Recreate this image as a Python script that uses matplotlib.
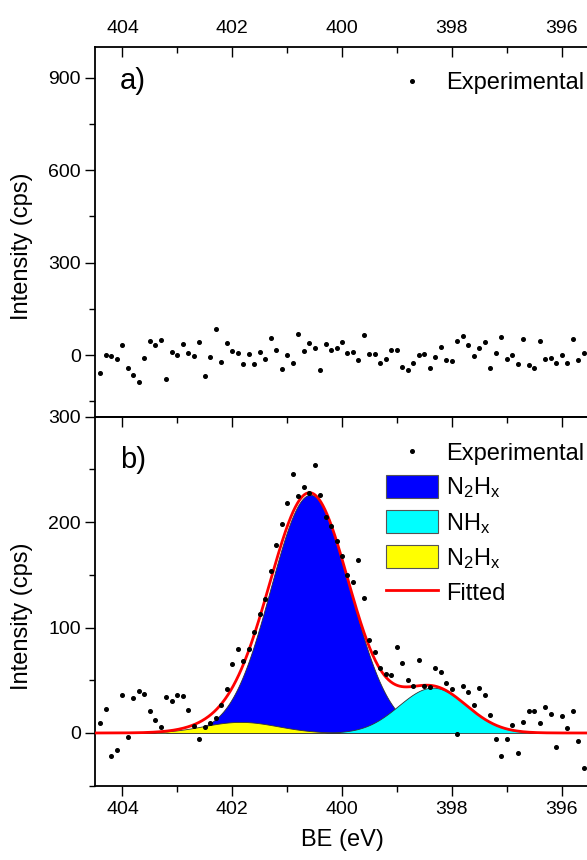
import numpy as np
import matplotlib
matplotlib.use("Agg")
import matplotlib.pyplot as plt
from matplotlib.ticker import MultipleLocator, NullFormatter
from matplotlib.patches import Patch
from matplotlib.lines import Line2D

plt.rcParams['font.family'] = ['Liberation Sans', 'DejaVu Sans']
plt.rcParams['mathtext.fontset'] = 'custom'
plt.rcParams['mathtext.rm'] = 'Liberation Sans'
plt.rcParams['mathtext.it'] = 'Liberation Sans'

# ---------------- data ----------------
be = np.round(np.arange(404.4, 395.45, -0.1), 1)  # binding energies (eV), 0.1 eV step

intensity_a = [
    -57, -1, -4, -13, 32, -42, -64, -87, -11, 44,
    32, 50, -77, 10, 0, 37, 8, -3, 43, -67,
    -8, 86, -24, 40, 13, 6, -30, 3, -30, 10,
    -13, 55, 17, -45, 1, -27, 68, 13, 38, 22,
    -48, 37, 17, 22, 43, 6, 11, -16, 64, 4,
    4, -27, -13, 17, 15, -40, -48, -25, 0, 3,
    -41, -6, 25, -15, -19, 44, 62, 32, -4, 22,
    43, -41, 6, 57, -13, 1, -30, 51, -33, -43,
    46, -13, -9, -27, 1, -27, 51, -16, 6, 83,
]

intensity_b = [
    9, 23, -22, -16, 36, -4, 33, 40, 37, 21,
    12, 6, 34, 30, 36, 35, 22, 7, -6, 6,
    9, 14, 27, 42, 65, 80, 68, 80, 96, 113,
    127, 154, 178, 198, 218, 246, 225, 233, 228, 254,
    226, 205, 196, 182, 168, 150, 143, 164, 128, 88,
    77, 62, 56, 55, 82, 66, 50, 45, 69, 45,
    44, 62, 58, 47, 42, -1, 45, 39, 27, 43,
    36, 17, -6, -22, -6, 8, -19, 10, 21, 21,
    9, 25, 18, -13, 16, 5, 21, -8, -33, 18,
]

# fitted peak components: centre (eV), height (cps), FWHM (eV)
peak_names = ['N$_2$H$_x$', 'NH$_x$', 'N$_2$H$_x$']
peak_centres = [400.58, 398.35, 401.85]
peak_heights = [226, 43, 10.5]
peak_fwhm = [1.70, 1.45, 1.60]
peak_colors = ['#0000FF', '#00FFFF', '#FFFF00']

# --------------- figure ---------------
W, H = 587, 860
fig = plt.figure(figsize=(W / 100, H / 100), dpi=100)

left = 95 / W
width = (589 - 95) / W
axA = fig.add_axes([left, 1 - 416.7 / H, width, (416.7 - 46.7) / H])
axB = fig.add_axes([left, 1 - 785.7 / H, width, (785.7 - 416.7) / H])

FS_TICK = 14
FS_LAB = 17

for ax in (axA, axB):
    ax.set_xlim(404.5, 395.5)
    ax.xaxis.set_major_locator(MultipleLocator(2))
    ax.xaxis.set_minor_locator(MultipleLocator(1))
    for s in ax.spines.values():
        s.set_linewidth(1.3)
    ax.tick_params(which='both', width=1.0, labelsize=FS_TICK)
    ax.tick_params(which='major', length=7)
    ax.tick_params(which='minor', length=4)
    ax.tick_params(axis='y', which='both', direction='out', pad=3)

# panel a
axA.plot(be, intensity_a, 'o', color='black', markersize=2.6, label='Experimental')
axA.set_ylim(-200, 1000)
axA.yaxis.set_major_locator(MultipleLocator(300))
axA.yaxis.set_minor_locator(MultipleLocator(150))
axA.tick_params(axis='x', which='both', top=True, bottom=False, labeltop=True,
                labelbottom=False, direction='in')
axA.tick_params(axis='x', which='major', pad=7)
axA.set_ylabel('Intensity (cps)', fontsize=FS_LAB)
axA.yaxis.set_label_coords(-0.125, 0.46)
axA.text(0.051, 0.907, 'a)', transform=axA.transAxes, fontsize=21,
         ha='left', va='center')
axA.legend(loc='center right', bbox_to_anchor=(0.99, 0.902), frameon=False,
           fontsize=FS_LAB, borderpad=0, borderaxespad=0,
           handlelength=2.2, handletextpad=0.34)

# panel b
xf = np.linspace(404.5, 395.5, 901)
comps = []
for c, h, fw in zip(peak_centres, peak_heights, peak_fwhm):
    sig = fw / (2 * np.sqrt(2 * np.log(2)))
    comps.append(h * np.exp(-(xf - c) ** 2 / (2 * sig ** 2)))
total = np.sum(comps, axis=0)

zorders = [2, 3, 4]
for comp, col, z in zip(comps, peak_colors, zorders):
    mask = comp > 0.3
    axB.fill_between(xf[mask], 0, comp[mask], facecolor=col, edgecolor='#333333',
                     linewidth=0.6, zorder=z)
axB.plot(xf, total, color='#FF0000', linewidth=2.0, zorder=5)
axB.plot(be, intensity_b, 'o', color='black', markersize=2.6, zorder=6)
axB.set_ylim(-50, 300)
axB.yaxis.set_major_locator(MultipleLocator(100))
axB.yaxis.set_minor_locator(MultipleLocator(50))
axB.tick_params(axis='x', which='both', top=False, bottom=True, direction='out')
axB.tick_params(axis='x', which='major', pad=4)
axB.set_ylabel('Intensity (cps)', fontsize=FS_LAB)
axB.yaxis.set_label_coords(-0.125, 0.46)
axB.set_xlabel('BE (eV)', fontsize=FS_LAB, labelpad=8)
axB.text(0.051, 0.883, 'b)', transform=axB.transAxes, fontsize=21,
         ha='left', va='center')

# inward ticks on the shared boundary (top of panel b)
secB = axB.secondary_xaxis('top')
secB.xaxis.set_major_locator(MultipleLocator(2))
secB.xaxis.set_minor_locator(MultipleLocator(1))
secB.xaxis.set_major_formatter(NullFormatter())
secB.tick_params(which='both', direction='in', width=1.0)
secB.tick_params(which='major', length=7)
secB.tick_params(which='minor', length=4)
secB.spines['top'].set_linewidth(1.3)

handles = [Line2D([], [], marker='o', ls='none', color='black', markersize=2.6)]
for col in peak_colors:
    handles.append(Patch(facecolor=col, edgecolor='#555555', linewidth=0.8))
handles.append(Line2D([], [], color='#FF0000', linewidth=2.0))
labels = ['Experimental'] + peak_names + ['Fitted']
axB.legend(handles, labels, loc='upper right', bbox_to_anchor=(0.99, 0.935),
           frameon=False, fontsize=FS_LAB, borderpad=0, borderaxespad=0,
           handlelength=2.2, handleheight=1.15, handletextpad=0.34,
           labelspacing=0.4)

fig.savefig('out.png', dpi=100)
